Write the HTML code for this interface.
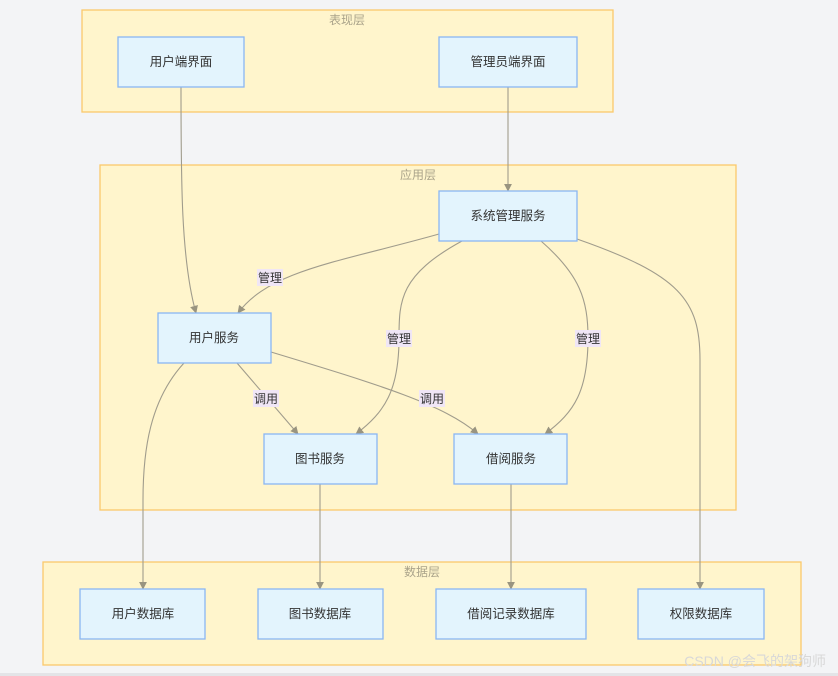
<!DOCTYPE html>
<html><head><meta charset="utf-8"><style>
html,body{margin:0;padding:0;background:#f3f4f6;}
svg{display:block;}
text{font-family:"Liberation Sans","Noto Sans CJK SC",sans-serif;}
</style></head><body>
<svg width="838" height="676" viewBox="0 0 838 676" xmlns="http://www.w3.org/2000/svg">
<defs>
<marker id="a" viewBox="0 0 10 10" refX="9" refY="5" markerWidth="8" markerHeight="8" orient="auto-start-reverse" markerUnits="userSpaceOnUse">
<path d="M0,0 L10,5 L0,10 z" fill="#999480"/>
</marker>
</defs>
<rect x="0" y="0" width="838" height="676" fill="#f3f4f6"/>
<rect x="0" y="673" width="838" height="3" fill="#e3e4e7"/>
<g fill="#fff5cc" stroke="#fbc96b" stroke-width="1.3">
<rect x="82" y="10" width="531" height="102"/>
<rect x="100" y="165" width="636" height="345"/>
<rect x="43" y="562" width="758" height="103"/>
</g>
<g font-size="12" fill="#aaa38a" text-anchor="middle">
<text x="347" y="24">表现层</text>
<text x="418" y="179">应用层</text>
<text x="422" y="576">数据层</text>
</g>
<g fill="none" stroke="#a09c8c" stroke-width="1.1" marker-end="url(#a)">
<path d="M181,87 C181,180 181,260 196,313"/>
<path d="M508,87 L508,191"/>
<path d="M439,234 C340,262 270,270 238,313"/>
<path d="M462,241 C400,275 399,300 399,338 C399,390 385,412 356,434"/>
<path d="M541,241 C580,275 588,300 588,338 C588,390 575,412 545,434"/>
<path d="M577,239 C680,275 700,300 700,360 L700,589"/>
<path d="M184,363 C150,400 143,450 143,500 L143,589"/>
<path d="M237,363 L298,434"/>
<path d="M271,352 C380,385 445,405 478,434"/>
<path d="M320,484 L320,589"/>
<path d="M511,484 L511,589"/>
</g>
<g font-size="12" fill="#333" text-anchor="middle">
<rect x="257" y="269" width="26" height="17" fill="#f0e6f6"/><text x="270" y="282">管理</text>
<rect x="386" y="330" width="26" height="17" fill="#f0e6f6"/><text x="399" y="343">管理</text>
<rect x="575" y="330" width="26" height="17" fill="#f0e6f6"/><text x="588" y="343">管理</text>
<rect x="253" y="390" width="26" height="17" fill="#f0e6f6"/><text x="266" y="403">调用</text>
<rect x="419" y="390" width="26" height="17" fill="#f0e6f6"/><text x="432" y="403">调用</text>
</g>
<g fill="#e3f4fd" stroke="#8ab6f3" stroke-width="1.3">
<rect x="118" y="37" width="126" height="50"/>
<rect x="439" y="37" width="138" height="50"/>
<rect x="439" y="191" width="138" height="50"/>
<rect x="158" y="313" width="113" height="50"/>
<rect x="264" y="434" width="113" height="50"/>
<rect x="454" y="434" width="113" height="50"/>
<rect x="80" y="589" width="125" height="50"/>
<rect x="258" y="589" width="125" height="50"/>
<rect x="436" y="589" width="150" height="50"/>
<rect x="638" y="589" width="126" height="50"/>
</g>
<g font-size="12.5" fill="#333" text-anchor="middle">
<text x="181" y="66">用户端界面</text>
<text x="508" y="66">管理员端界面</text>
<text x="508" y="220">系统管理服务</text>
<text x="214" y="342">用户服务</text>
<text x="320" y="463">图书服务</text>
<text x="511" y="463">借阅服务</text>
<text x="143" y="618">用户数据库</text>
<text x="320" y="618">图书数据库</text>
<text x="511" y="618">借阅记录数据库</text>
<text x="701" y="618">权限数据库</text>
</g>
<text x="826" y="666" font-size="14" fill="#d8d8d8" text-anchor="end">CSDN @会飞的架狗师</text>
</svg>
</body></html>
